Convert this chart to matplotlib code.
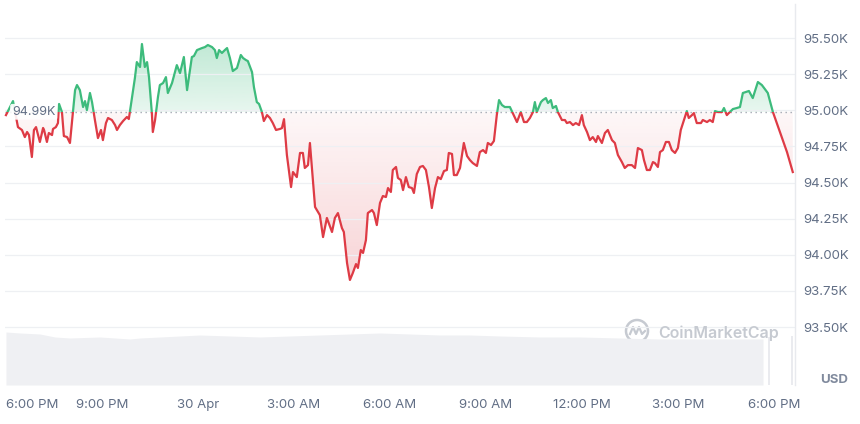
import numpy as np
import matplotlib
matplotlib.use('Agg')
import matplotlib.pyplot as plt
from matplotlib.path import Path
from matplotlib.patches import Rectangle, Circle
from matplotlib.lines import Line2D
from matplotlib.colors import to_rgb

plt.rcParams['font.family'] = ['Inter', 'DejaVu Sans']

# hours since 6:00 PM (29 Apr)
hours = [
    0.0, 0.22, 0.375, 0.5, 0.59, 0.66, 0.72, 0.81, 0.875, 0.94,
    1.06, 1.16, 1.19, 1.28, 1.34, 1.44, 1.47, 1.56, 1.625, 1.66,
    1.75, 1.81, 1.91, 2.0, 2.09, 2.16, 2.22, 2.31, 2.41, 2.47,
    2.53, 2.625, 2.69, 2.78, 2.875, 2.97, 3.03, 3.125, 3.19, 3.31,
    3.41, 3.47, 3.56, 3.66, 3.78, 3.84, 3.94, 4.03, 4.09, 4.19,
    4.25, 4.34, 4.41, 4.47, 4.56, 4.59, 4.66, 4.75, 4.81, 4.91,
    5.0, 5.06, 5.19, 5.34, 5.44, 5.56, 5.66, 5.81, 5.875, 5.97,
    6.125, 6.22, 6.31, 6.44, 6.53, 6.59, 6.66, 6.75, 6.84, 6.91,
    7.0, 7.09, 7.22, 7.34, 7.41, 7.5, 7.56, 7.69, 7.75, 7.84,
    7.91, 8.0, 8.06, 8.16, 8.25, 8.34, 8.44, 8.56, 8.625, 8.69,
    8.78, 8.91, 8.97, 9.09, 9.19, 9.28, 9.34, 9.44, 9.5, 9.66,
    9.81, 9.91, 10.03, 10.19, 10.28, 10.375, 10.5, 10.56, 10.66, 10.75,
    10.84, 10.94, 11.0, 11.09, 11.16, 11.25, 11.31, 11.44, 11.5, 11.59,
    11.69, 11.78, 11.875, 11.94, 12.03, 12.09, 12.19, 12.25, 12.34, 12.41,
    12.5, 12.59, 12.69, 12.75, 12.84, 12.94, 13.03, 13.125, 13.22, 13.31,
    13.41, 13.5, 13.59, 13.69, 13.78, 13.84, 13.94, 14.0, 14.09, 14.19,
    14.31, 14.41, 14.5, 14.59, 14.72, 14.81, 14.91, 15.0, 15.06, 15.16,
    15.25, 15.34, 15.41, 15.5, 15.59, 15.75, 15.84, 15.97, 16.09, 16.19,
    16.28, 16.375, 16.47, 16.53, 16.59, 16.72, 16.78, 16.875, 16.94, 17.03,
    17.09, 17.19, 17.25, 17.375, 17.47, 17.53, 17.625, 17.72, 17.81, 17.91,
    18.0, 18.06, 18.16, 18.25, 18.34, 18.44, 18.5, 18.625, 18.72, 18.81,
    18.94, 19.03, 19.125, 19.25, 19.34, 19.44, 19.56, 19.66, 19.75, 19.875,
    19.94, 20.03, 20.125, 20.22, 20.28, 20.375, 20.44, 20.53, 20.625, 20.72,
    20.81, 20.91, 21.0, 21.09, 21.19, 21.28, 21.34, 21.44, 21.5, 21.59,
    21.72, 21.78, 21.91, 22.0, 22.09, 22.16, 22.25, 22.375, 22.44, 22.53,
    22.59, 22.72, 22.84, 22.94, 23.03, 23.125, 23.22, 23.34, 23.44, 23.5,
    23.625, 23.72, 23.81, 23.97, 24.19, 24.41, 24.59,
]
prices = [
    94967, 95064, 94884, 94864, 94815, 94850, 94829, 94677, 94864, 94884,
    94781, 94878, 94864, 94781, 94843, 94829, 94871, 94884, 94912, 95044,
    94988, 94822, 94815, 94774, 94981, 95140, 95175, 95140, 95023, 95064,
    95002, 95120, 95057, 94933, 94808, 94864, 94794, 94912, 94947, 94933,
    94898, 94864, 94898, 94926, 94954, 94940, 95092, 95224, 95334, 95300,
    95459, 95300, 95334, 95230, 94981, 94850, 94933, 95092, 95175, 95189,
    95230, 95120, 95189, 95313, 95258, 95369, 95140, 95369, 95376, 95417,
    95431, 95438, 95452, 95438, 95417, 95362, 95417, 95397, 95417, 95431,
    95362, 95272, 95293, 95383, 95362, 95348, 95341, 95265, 95161, 95057,
    95044, 94988, 94926, 94967, 94947, 94912, 94864, 94871, 94877, 94939,
    94691, 94469, 94573, 94538, 94705, 94705, 94601, 94621, 94774, 94331,
    94275, 94123, 94255, 94158, 94255, 94289, 94185, 94158, 93943, 93826,
    93874, 93936, 93909, 94033, 94013, 94102, 94289, 94310, 94289, 94206,
    94359, 94407, 94400, 94462, 94435, 94587, 94608, 94532, 94518, 94448,
    94538, 94469, 94462, 94428, 94559, 94608, 94615, 94587, 94469, 94324,
    94462, 94538, 94524, 94580, 94587, 94705, 94698, 94552, 94552, 94601,
    94774, 94684, 94656, 94635, 94615, 94711, 94725, 94705, 94774, 94760,
    94788, 94967, 95071, 95037, 95023, 95023, 94981, 94919, 94988, 94919,
    94919, 94947, 94988, 95057, 94988, 95057, 95071, 95085, 95051, 95071,
    95016, 95030, 94988, 94933, 94933, 94912, 94919, 94898, 94912, 94898,
    94967, 94898, 94850, 94794, 94815, 94781, 94822, 94774, 94843, 94864,
    94794, 94774, 94691, 94642, 94601, 94621, 94621, 94601, 94739, 94725,
    94656, 94587, 94587, 94642, 94635, 94608, 94711, 94725, 94781, 94781,
    94725, 94705, 94739, 94864, 94933, 94995, 94947, 94967, 94981, 94912,
    94912, 94933, 94919, 94933, 94919, 94995, 94988, 94988, 95016, 94967,
    94981, 95009, 95016, 95023, 95120, 95127, 95134, 95085, 95154, 95196,
    95175, 95147, 95120, 94988, 94850, 94711, 94573,
]
BASE = 94990  # opening price, dotted reference line

# 24h volume (billions USD)
vol_hours = [0.0, 0.44, 1.06, 1.53, 2.0, 2.94, 3.875, 4.19, 4.81, 6.06, 7.0,
             7.94, 8.875, 9.81, 10.75, 11.69, 12.625, 13.56, 14.5, 15.44,
             16.69, 17.94, 19.19, 20.44, 21.69, 22.94, 23.66]
vol_vals = [31.8, 31.2, 30.6, 28.8, 28.2, 28.8, 27.6, 28.2, 28.8, 30.0, 29.4,
            28.8, 29.4, 30.0, 30.6, 31.2, 30.6, 30.0, 30.0, 29.4,
            28.8, 28.8, 28.2, 27.6, 27.6, 27.6, 27.6]
tail_hours = [23.84, 24.56]
tail_vals = [28.8, 29.4]

xtick_hours = [0, 3, 6, 9, 12, 15, 18, 21, 24]
xtick_labels = ['6:00 PM', '9:00 PM', '30 Apr', '3:00 AM', '6:00 AM',
                '9:00 AM', '12:00 PM', '3:00 PM', '6:00 PM']
ytick_vals = list(range(93500, 95501, 250))

GREEN = '#3dbb7c'
RED = '#de3b45'
TXT = '#616e85'

W, H = 860, 424
fig = plt.figure(figsize=(8.6, 4.24), dpi=100)


def px_box(x0, y0, x1, y1):
    return [x0 / W, 1 - y1 / H, (x1 - x0) / W, (y1 - y0) / H]


XLIM = (-0.03, 24.66)
YLIM = (93099, 95736)

# volume strip at the bottom
ax_vol = fig.add_axes(px_box(5, 328, 795, 385), zorder=1)
ax_vol.fill_between(vol_hours, vol_vals, 0, color='#eff0f3', lw=0)
ax_vol.bar(tail_hours, tail_vals, width=0.07, color='#eaebef', lw=0)
ax_vol.set_xlim(*XLIM)
ax_vol.set_ylim(0, 34.2)
ax_vol.axis('off')

ax = fig.add_axes(px_box(5, 4, 795, 385), zorder=2)
ax.patch.set_alpha(0)

x = np.array(hours)
y = np.array(prices)


def gradient_fill(mask, color, lo, hi, a_lo, a_hi):
    coll = ax.fill_between(x, y, BASE, where=mask, interpolate=True,
                           facecolor='none', edgecolor='none', lw=0)
    path = Path.make_compound_path(*coll.get_paths())
    img = np.zeros((120, 1, 4))
    img[..., :3] = to_rgb(color)
    img[..., 3] = np.linspace(a_lo, a_hi, 120)[:, None]
    im = ax.imshow(img, aspect='auto', origin='lower',
                   extent=[x[0], x[-1], lo, hi], zorder=1, interpolation='bilinear')
    im.set_clip_path(path, transform=ax.transData)


gradient_fill(y >= BASE, GREEN, BASE, y.max(), 0.12, 0.32)
gradient_fill(y <= BASE, RED, y.min(), BASE, 0.22, 0.04)

# line: green above the open, red below
for col, rect in [(GREEN, Rectangle((-1, BASE), 30, 5000, transform=ax.transData)),
                  (RED, Rectangle((-1, BASE - 5000), 30, 5000, transform=ax.transData))]:
    ln, = ax.plot(x, y, color=col, lw=1.6, zorder=3, solid_joinstyle='round')
    ln.set_clip_path(rect)

ax.axhline(BASE, color='#a3a9b3', lw=1, ls=(0, (1, 2.6)), zorder=2)
ax.text(0.19, BASE, '94.99K', color=TXT, fontsize=9, va='center', ha='left', zorder=5,
        bbox=dict(boxstyle='round,pad=0.15', fc='white', ec='none', alpha=0.9))

ax.set_xlim(*XLIM)
ax.set_ylim(*YLIM)

ax.set_yticks(ytick_vals)
ax.set_yticklabels([f'{v / 1000:.2f}K' for v in ytick_vals])
ax.yaxis.tick_right()
ax.grid(axis='y', color='#eef0f3', lw=0.9, zorder=0)
ax.set_xticks(xtick_hours)
ax.set_xticklabels(xtick_labels)
ax.xaxis.get_majorticklabels()[0].set_horizontalalignment('left')
ax.tick_params(axis='y', length=0, pad=6, labelsize=9.5, labelcolor=TXT)
ax.tick_params(axis='x', length=0, pad=10, labelsize=9.5, labelcolor=TXT)
for s in ['top', 'left', 'bottom']:
    ax.spines[s].set_visible(False)
ax.spines['right'].set_color('#e8eaee')
ax.spines['right'].set_linewidth(1)

fig.text(834 / W, 1 - 380 / H, 'USD', ha='center', va='center',
         fontsize=9.5, fontweight='bold', color='#808a9d')

# CoinMarketCap watermark
wm = '#c6cad1'
fig.add_artist(Circle((6.37, 0.93), 0.11, transform=fig.dpi_scale_trans,
                      fill=False, ec=wm, lw=1.8))
fig.add_artist(Line2D([6.30, 6.33, 6.36, 6.39, 6.42, 6.45],
                      [0.90, 0.97, 0.90, 0.97, 0.90, 0.93],
                      transform=fig.dpi_scale_trans, color=wm, lw=1.6))
fig.text(658 / W, 1 - 333 / H, 'CoinMarketCap', ha='left', va='center',
         fontsize=11.5, fontweight='semibold', color=wm)

fig.savefig('out.png', dpi=100)
